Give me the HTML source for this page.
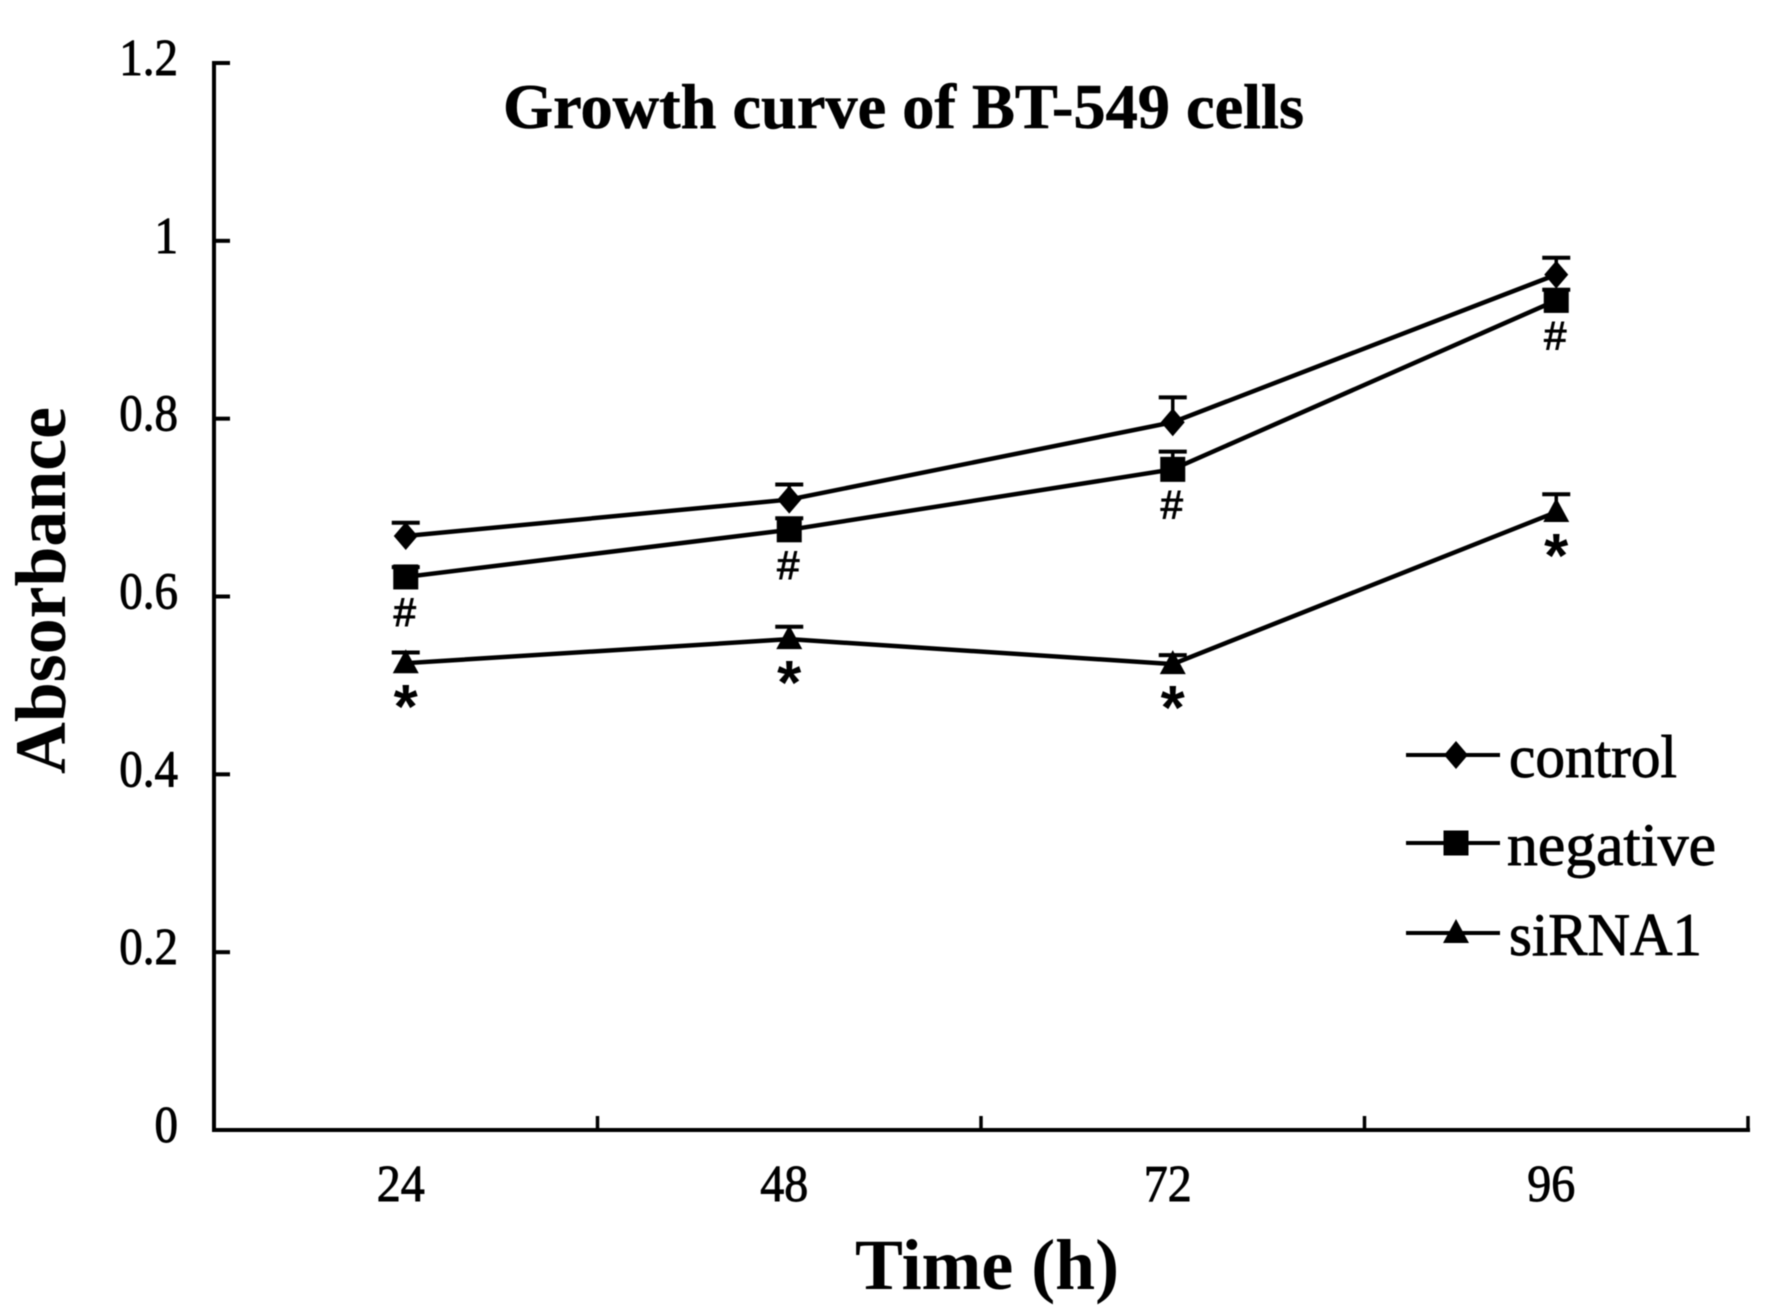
<!DOCTYPE html>
<html lang="en">
<head>
<meta charset="utf-8">
<title>Growth curve of BT-549 cells</title>
<style>
html,body{margin:0;padding:0;background:#fff;}
#chart{display:block;width:1772px;height:1311px;background:#fff;}
text{fill:#000;font-family:"Liberation Serif","Times New Roman",serif;}
</style>
</head>
<body>
<svg id="chart" xmlns="http://www.w3.org/2000/svg" width="1772" height="1311" viewBox="0 0 1772 1311">
  <defs>
    <filter id="soft" x="-5%" y="-5%" width="110%" height="110%"><feGaussianBlur stdDeviation="0.6"/></filter>
  </defs>
  <g id="root" filter="url(#soft)">
    <text x="503" y="128" font-size="63" font-weight="bold" textLength="801" lengthAdjust="spacingAndGlyphs" stroke="#000" stroke-width="0.6">Growth curve of BT-549 cells</text>
    <text transform="translate(65,774) rotate(-90)" font-size="72" font-weight="bold" textLength="367" lengthAdjust="spacingAndGlyphs">Absorbance</text>
    <text x="855" y="1289" font-size="72" font-weight="bold" textLength="264" lengthAdjust="spacingAndGlyphs">Time (h)</text>
  </g>
</svg>
<script>
const categories = ['24', '48', '72', '96'];
const yTickValues = [0, 0.2, 0.4, 0.6, 0.8, 1, 1.2];
const yTickLabels = ['0', '0.2', '0.4', '0.6', '0.8', '1', '1.2'];
const controlValues = [0.668, 0.709, 0.796, 0.962];
const controlErrors = [0.015, 0.017, 0.028, 0.019];
const negativeValues = [0.622, 0.675, 0.743, 0.933];
const negativeErrors = [0.011, 0.013, 0.020, 0.012];
const sirnaValues = [0.525, 0.552, 0.524, 0.695];
const sirnaErrors = [0.012, 0.014, 0.010, 0.020];
const legendLabels = ['control', 'negative', 'siRNA1'];

const NS = 'http://www.w3.org/2000/svg';
const root = document.getElementById('root');
const plotLeft = 214, plotRight = 1748, plotTop = 63, plotBottom = 1130;
const yMax = 1.2;
const LW = 4.5;

function xPos(i) { return plotLeft + (i + 0.5) * (plotRight - plotLeft) / categories.length; }
function xEdge(i) { return plotLeft + i * (plotRight - plotLeft) / categories.length; }
function yPos(v) { return plotBottom - (v / yMax) * (plotBottom - plotTop); }

function mk(tag, attrs, parent) {
  const el = document.createElementNS(NS, tag);
  for (const k in attrs) el.setAttribute(k, attrs[k]);
  (parent || root).appendChild(el);
  return el;
}
function seg(x1, y1, x2, y2, w, parent) {
  return mk('line', { x1: x1, y1: y1, x2: x2, y2: y2, stroke: '#000', 'stroke-width': w || LW }, parent);
}
function marker(kind, cx, cy, parent) {
  if (kind === 'square') return mk('rect', { x: cx - 12.5, y: cy - 12.5, width: 25, height: 25, fill: '#000' }, parent);
  if (kind === 'diamond') return mk('polygon', { points: [cx, cy - 14, cx + 12, cy, cx, cy + 14, cx - 12, cy].join(' '), fill: '#000' }, parent);
  return mk('polygon', { points: [cx, cy - 14, cx + 13, cy + 10, cx - 13, cy + 10].join(' '), fill: '#000' }, parent);
}

/* axes */
const yAxis = seg(plotLeft, plotTop - 2, plotLeft, plotBottom + 2, 4);


const xAxis = seg(plotLeft - 2, plotBottom, plotRight + 2, plotBottom, 4);



yTickValues.forEach(function (v, i) {
  const tick = seg(plotLeft, yPos(v), plotLeft + 16, yPos(v), 4);
  
  
  const label = mk('text', {
    transform: 'translate(178,' + (yPos(v) + 12) + ') scale(0.94,1.04)',
    'font-size': 50, 'text-anchor': 'end', stroke: '#000', 'stroke-width': 0.9
  });
  label.textContent = yTickLabels[i];
  
  
});

for (let i = 1; i <= categories.length; i++) {
  const tick = seg(xEdge(i), plotBottom, xEdge(i), plotBottom - 14, 3.5);
  
  
}
categories.forEach(function (c, i) {
  const label = mk('text', {
    transform: 'translate(' + (xPos(i) - 5) + ',1201) scale(0.96,1.04)',
    'font-size': 50, 'text-anchor': 'middle', stroke: '#000', 'stroke-width': 0.9
  });
  label.textContent = c;
  
  
});

/* series */
function drawSeries(name, kind, values, errors) {
  const g = mk('g', {});
  
  
  const pts = values.map(function (v, i) { return xPos(i) + ',' + yPos(v); }).join(' ');
  const line = mk('polyline', { points: pts, fill: 'none', stroke: '#000', 'stroke-width': LW }, g);
  
  
  values.forEach(function (v, i) {
    const x = xPos(i), top = yPos(v + errors[i]);
    const stem = seg(x, yPos(v), x, top, 3.5, g);
    
    
    const cap = seg(x - 14, top, x + 14, top, 4, g);
    
    
    const m = marker(kind, x, yPos(v), g);
    
    
  });
}
drawSeries('control', 'diamond', controlValues, controlErrors);
drawSeries('negative', 'square', negativeValues, negativeErrors);
drawSeries('sirna1', 'triangle', sirnaValues, sirnaErrors);

/* significance marks follow the points they annotate */
negativeValues.forEach(function (v, i) {
  const t = mk('text', {
    x: xPos(i) - 1, y: yPos(v) + 49, 'font-size': 40, 'text-anchor': 'middle',
    stroke: '#000', 'stroke-width': 1,
    style: 'font-family:"Liberation Sans",Arial,sans-serif'
  });
  t.textContent = '#';
  
  
});
sirnaValues.forEach(function (v, i) {
  const t = mk('text', {
    x: xPos(i), y: yPos(v) + 65, 'font-size': 62, 'font-weight': 'bold', 'text-anchor': 'middle',
    style: 'font-family:"Liberation Sans",Arial,sans-serif'
  });
  t.textContent = '*';
  
  
});

/* legend */
const legendKinds = ['diamond', 'square', 'triangle'];
const legendRowY = [755, 843, 933];
const legendTextX = [1509, 1507, 1509];
const legendTextLen = [168, 209, 193];
const legendGroup = mk('g', {});


legendLabels.forEach(function (lab, i) {
  const y = legendRowY[i];
  const g = mk('g', {}, legendGroup);
  
  
  const l = seg(1406, y, 1500, y, 4, g);
  
  
  const m = marker(legendKinds[i], 1456, y, g);
  
  
  const t = mk('text', {
    x: legendTextX[i], y: y + 22, 'font-size': 60,
    textLength: legendTextLen[i], lengthAdjust: 'spacingAndGlyphs',
    stroke: '#000', 'stroke-width': 0.9
  }, g);
  t.textContent = lab;
  
  
});
</script>
</body>
</html>
